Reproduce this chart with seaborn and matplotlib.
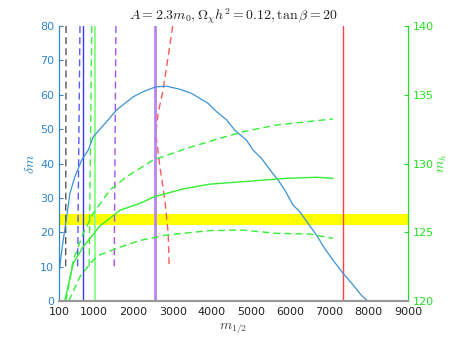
import numpy as np
import pandas as pd
import matplotlib
matplotlib.use('Agg')
import matplotlib.pyplot as plt
import seaborn as sns

# ----- data -----
m_blue = [100, 184, 296, 380, 507, 678, 846, 974, 1356, 1570, 1992, 2247, 2563, 2843,
          3182, 3480, 3903, 4117, 4371, 4583, 4881, 5049, 5263, 5518, 5686, 5856,
          6068, 6238, 6450, 6664, 6875, 7086, 7341, 7596, 7810, 7937, 8000]
dm_blue = [8.1, 15.8, 24.5, 31.4, 36.2, 41.0, 43.9, 47.8, 52.7, 55.6, 59.4, 60.9, 62.3, 62.5,
           61.6, 60.4, 57.5, 55.1, 52.7, 49.7, 46.8, 43.9, 41.5, 37.6, 35.2, 32.3,
           27.9, 26.0, 22.6, 19.2, 15.3, 11.9, 8.1, 4.7, 1.7, 0.3, 0.0]

m_up = [270, 296, 464, 719, 974, 1399, 1824, 2502, 3352, 4200, 4794, 5645, 7086]
mh_up = [120.0, 120.31, 122.98, 124.92, 126.38, 128.07, 129.04, 130.25, 131.1, 131.83, 132.31, 132.8, 133.24]

m_mid = [253, 464, 719, 1144, 1654, 2163, 2545, 3266, 3946, 4794, 5899, 6664, 7086]
mh_mid = [120.07, 122.74, 123.95, 125.45, 126.6, 127.1, 127.6, 128.15, 128.5, 128.68, 128.92, 129.0, 128.92]

m_low = [350, 635, 974, 1144, 1570, 2163, 2843, 3946, 4794, 5645, 6493, 7086]
mh_low = [120.0, 121.77, 122.98, 123.35, 123.83, 124.4, 124.8, 125.12, 125.16, 124.92, 124.87, 124.56]

# sloped dashed limits (delta m units)
dash_y = [80, 10]
m_black_d = [280, 270]
m_blue_d = [635, 575]
m_green_d = [935, 870]
m_purple_d = [1551, 1508]
m_red_d = [3000, 2756, 2629, 2570, 2672, 2800, 2884, 2910]
dm_red_d = [80, 61.4, 54.7, 48.8, 39.1, 29.4, 19.7, 10]

# full-height solid lines
m_blue_s = 700
m_green_s = 1017
m_purple_s = 2560
m_red_s = 7350

band = [22.1, 25.2]   # yellow band (delta m units)

x_ticks = [100, 1000, 2000, 3000, 4000, 5000, 6000, 7000, 8000, 9000]
y_ticks = list(range(0, 81, 10))
y2_ticks = [120, 125, 130, 135, 140]

# ----- style -----
sns.set_style('white')
plt.rcParams['font.family'] = ['DejaVu Sans']
plt.rcParams['mathtext.fontset'] = 'cm'

c_left = '#2f86cc'
c_right = '#22e022'
c_curve = '#3a92d6'
c_green = '#33ee33'
dash = (0, (5, 3))

fig = plt.figure(figsize=(4.51, 3.38), dpi=100)
ax = fig.add_axes([0.1308, 0.1095, 0.7739, 0.8135])
ax2 = ax.twinx()

ax.axhspan(band[0], band[1], color='#ffff00', lw=0, zorder=0)

# dashed near-vertical lines
for xs, col in [(m_black_d, '#555555'), (m_blue_d, '#5b5bff'), (m_green_d, '#40ee40'),
                (m_purple_d, '#a850f0')]:
    sns.lineplot(x=xs, y=dash_y, ax=ax, color=col, lw=1, sort=False, estimator=None,
                 linestyle=dash)
sns.lineplot(x=m_red_d, y=dm_red_d, ax=ax, color='#ff5a5a', lw=1, sort=False,
             estimator=None, linestyle=dash)

# solid vertical lines
ax.axvline(m_blue_s, color='#3a3aff', lw=1)
ax.axvline(m_green_s, color='#90ff90', lw=1.5)
ax.axvline(m_purple_s, color='#b585f0', lw=2)
ax.axvline(m_red_s, color='#ff4040', lw=1)

sns.lineplot(x=m_blue, y=dm_blue, ax=ax, color=c_curve, lw=0.9, sort=False, estimator=None)

sns.lineplot(x=m_up, y=mh_up, ax=ax2, color=c_green, lw=1, linestyle=dash,
             sort=False, estimator=None)
sns.lineplot(x=m_mid, y=mh_mid, ax=ax2, color=c_green, lw=1, sort=False, estimator=None)
sns.lineplot(x=m_low, y=mh_low, ax=ax2, color=c_green, lw=1, linestyle=dash,
             sort=False, estimator=None)

ax.set_xlim(100, 9000)
ax.set_ylim(0, 80)
ax2.set_ylim(120, 140)
ax.set_xticks(x_ticks)
ax.set_yticks(y_ticks)
ax2.set_yticks(y2_ticks)

ax.tick_params(axis='x', direction='in', length=3, labelsize=8, pad=4,
               colors='#999999', labelcolor='#222222')
ax.tick_params(axis='y', direction='in', length=3, labelsize=8, colors=c_left)
ax2.tick_params(axis='y', direction='in', length=3, labelsize=8, colors=c_right)

for a in (ax, ax2):
    a.spines['top'].set_visible(False)
    a.spines['left'].set_color(c_left)
    a.spines['right'].set_color(c_right)
    a.spines['bottom'].set_color('#999999')
    a.spines['bottom'].set_linewidth(1.5)

ax.set_xlabel(r'$m_{1/2}$', fontsize=10, color='#444444', labelpad=4)
ax.set_ylabel(r'$\delta m$', fontsize=10, color=c_left, labelpad=2)
ax2.set_ylabel(r'$m_h$', fontsize=10, color=c_right, labelpad=1)
ax.set_title(r'$A = 2.3m_0, \Omega_\chi h^2 = 0.12, \tan\beta = 20$', fontsize=10,
             color='#222222', pad=4)

fig.savefig('out.png', dpi=100)
